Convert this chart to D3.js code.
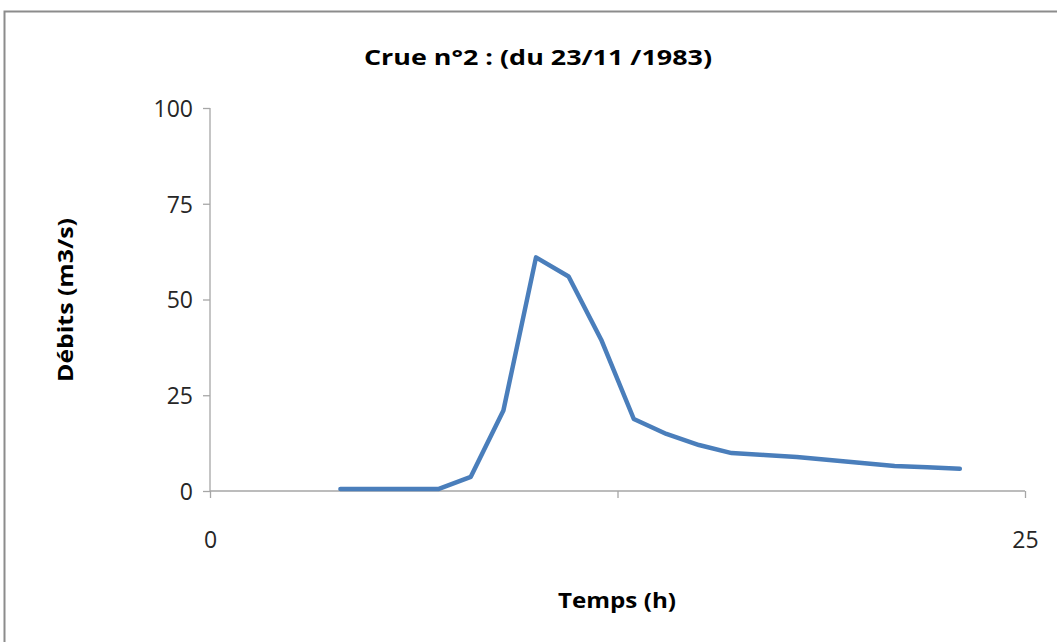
<!DOCTYPE html>
<html><head><meta charset="utf-8">
<script src="https://cdn.jsdelivr.net/npm/d3@7"></script>
<style>body{margin:0;background:#fff}</style>
</head><body>
<svg id="c" width="1057" height="642"></svg>
<script>
const hours = [4,5,6,7,8,9,10,11,12,13,14,15,16,17,18,19,20,21,22,23];
const debits = [0.5,0.5,0.5,0.5,3.7,21,61,56,39.5,18.8,14.9,12,9.9,9.4,8.9,8.1,7.3,6.5,6.2,5.8];
const yTicks = [0,25,50,75,100];
const xTicks = [0,12.5,25];
const xTickLabels = ["0","","25"];
const title = "Crue n°2 : (du 23/11 /1983)";
const xLabel = "Temps (h)";
const yLabel = "Débits (m3/s)";

const svg = d3.select("#c");
const font = "'Open Sans', sans-serif";
svg.append("rect").attr("x",4.5).attr("y",11.5).attr("width",1060).attr("height",640)
  .attr("fill","#fff").attr("stroke","#8c8c8c").attr("stroke-width",2);

const x = d3.scaleLinear().domain([0,25]).range([210,1025]);
const y = d3.scaleLinear().domain([0,100]).range([491,108]);

const gy = svg.append("g").attr("transform","translate(210,0)")
  .call(d3.axisLeft(y).tickValues(yTicks).tickSize(7).tickPadding(10).tickFormat(d3.format("d")));
const gx = svg.append("g").attr("transform","translate(0,491)")
  .call(d3.axisBottom(x).tickValues(xTicks).tickSize(7).tickPadding(34).tickFormat((d,i)=>xTickLabels[i]));
[gx,gy].forEach(g=>{
  g.attr("font-family",null).attr("font-size",null);
  g.selectAll("path,line").attr("stroke","#a6a6a6").attr("stroke-width",1.3);
  g.selectAll("text").attr("fill","#262626").attr("font-family",font).attr("font-size",23);
});
gy.selectAll("text").attr("dy","0.36em");
gy.select(".domain").attr("d","M0,108V491");
gx.select(".domain").attr("d","M210,0H1025");

const line = d3.line().x((d,i)=>x(hours[i])).y(d=>y(d));
svg.append("path").datum(debits).attr("d",line).attr("fill","none")
  .attr("stroke","#4a7ebb").attr("stroke-width",4.5).attr("stroke-linejoin","round").attr("stroke-linecap","round");

svg.append("text").attr("x",538).attr("y",65).attr("text-anchor","middle")
  .attr("textLength",348).attr("lengthAdjust","spacingAndGlyphs")
  .attr("font-family",font).attr("font-weight","bold").attr("font-size",22).text(title);
svg.append("text").attr("x",617).attr("y",608).attr("text-anchor","middle")
  .attr("textLength",118).attr("lengthAdjust","spacingAndGlyphs")
  .attr("font-family",font).attr("font-weight","bold").attr("font-size",22).text(xLabel);
svg.append("text").attr("transform","translate(73,300) rotate(-90)").attr("text-anchor","middle")
  .attr("textLength",164).attr("lengthAdjust","spacingAndGlyphs")
  .attr("font-family",font).attr("font-weight","bold").attr("font-size",22).text(yLabel);
</script>
</body></html>
